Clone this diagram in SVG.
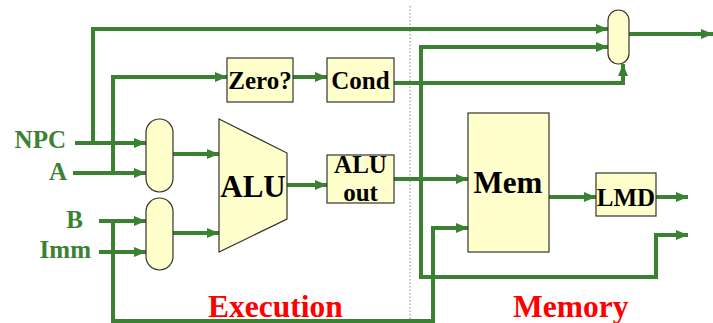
<svg xmlns="http://www.w3.org/2000/svg" width="713" height="323" viewBox="0 0 713 323">
<style>
.box{fill:#FFFFCC;stroke:#333;stroke-width:1.2}
.w{fill:none;stroke:#3B8132;stroke-width:4}
.a{marker-end:url(#ah)}
.t{font-family:"Liberation Serif",serif;font-weight:bold;fill:#000}
.lbl{font-family:"Liberation Serif",serif;font-weight:bold;fill:#3B8132;font-size:25px;text-anchor:end}
.sec{font-family:"Liberation Serif",serif;font-weight:bold;fill:#FF0000;font-size:31.5px}
</style>
<defs>
<marker id="ah" markerUnits="userSpaceOnUse" markerWidth="12" markerHeight="10" refX="12" refY="5" orient="auto">
<path d="M0,0 L12,5 L0,10 z" fill="#3B8132"/>
</marker>
</defs>
<rect width="713" height="323" fill="#fff"/>
<line x1="410" y1="6" x2="410" y2="323" stroke="#888" stroke-width="1" stroke-dasharray="1.5 2"/>
<g id="connectors">
<path class="w a" d="M75,143 H146"/>
<path class="w a" d="M93,143 V29 H608"/>
<path class="w a" d="M73,173 H146"/>
<path class="w a" d="M113,173 V77 H227"/>
<path class="w a" d="M99,221 H146"/>
<path class="w a" d="M99,252 H146"/>
<path class="w a" d="M113,221 V321 H433 V228 H468"/>
<path class="w a" d="M173,154 H219"/>
<path class="w a" d="M173,233 H219"/>
<path class="w a" d="M287,185 H327"/>
<path class="w a" d="M293,77 H327"/>
<path class="w a" d="M394,83 H623 V64"/>
<path class="w a" d="M394,179 H468"/>
<path class="w a" d="M421,179 V47 H608"/>
<path class="w a" d="M421,179 V277 H656 V235 H688"/>
<path class="w a" d="M549,197 H596"/>
<path class="w a" d="M656,197 H688"/>
<path class="w a" d="M629,34 H713"/>
</g>
<g id="labels">
<text class="lbl" x="66" y="148">NPC</text>
<text class="lbl" x="67" y="180">A</text>
<text class="lbl" x="83" y="228">B</text>
<text class="lbl" x="91" y="258">Imm</text>
</g>
<g id="mux1"><rect class="box" x="146" y="119" width="27" height="73" rx="13.5"/></g>
<g id="mux2"><rect class="box" x="146" y="198" width="27" height="72" rx="13.5"/></g>
<g id="mux3"><rect class="box" x="608" y="10" width="21" height="54" rx="10.5"/></g>
<g id="alu">
<polygon class="box" points="219,119 287,153 287,219 219,252"/>
<text class="t" x="253" y="197" font-size="31" text-anchor="middle">ALU</text>
</g>
<g id="zero">
<rect class="box" x="227" y="58" width="66" height="44"/>
<text class="t" x="260" y="89" font-size="25" text-anchor="middle">Zero?</text>
</g>
<g id="cond">
<rect class="box" x="327" y="58" width="67" height="44"/>
<text class="t" x="360.5" y="89" font-size="25" text-anchor="middle">Cond</text>
</g>
<g id="aluout">
<rect class="box" x="327" y="155" width="67" height="48"/>
<text class="t" x="360.5" y="173" font-size="25" text-anchor="middle">ALU</text>
<text class="t" x="360.5" y="201" font-size="25" text-anchor="middle">out</text>
</g>
<g id="mem">
<rect class="box" x="468" y="113" width="81" height="139"/>
<text class="t" x="508" y="193" font-size="31" text-anchor="middle">Mem</text>
</g>
<g id="lmd">
<rect class="box" x="596" y="173" width="60" height="43"/>
<text class="t" x="626" y="206" font-size="25" text-anchor="middle">LMD</text>
</g>
<text class="sec" x="208" y="317">Execution</text>
<text class="sec" x="513" y="317">Memory</text>
</svg>
